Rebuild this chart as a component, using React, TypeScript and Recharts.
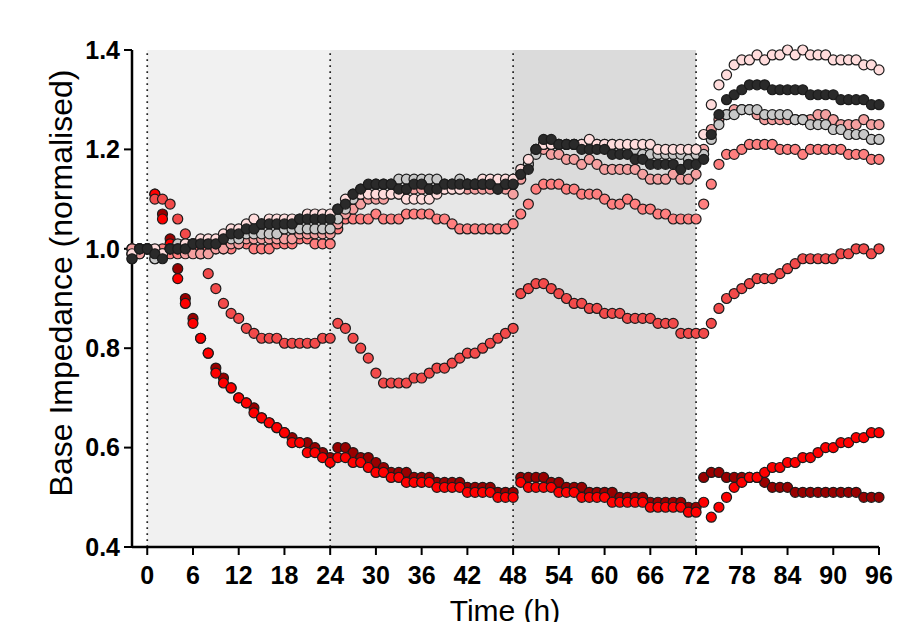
import React from 'react';
import {
  ScatterChart,
  Scatter,
  XAxis,
  YAxis,
  ReferenceArea,
  ReferenceLine,
} from 'recharts';

// sampling times (h), one reading per hour from -2 to 96
const HOURS = Array.from({ length: 99 }, (_, i) => i - 2);

const X_TICKS = [0, 6, 12, 18, 24, 30, 36, 42, 48, 54, 60, 66, 72, 78, 84, 90, 96];
const Y_TICKS = [0.4, 0.6, 0.8, 1.0, 1.2, 1.4];
const PHASE_BOUNDS = [0, 24, 48, 72];

// rows: -2..0 | 1..24 | 25..48 | 49..72 | 73..96
const charcoal = [
  0.98, 1.0, 1.0,
  0.99, 0.98, 1.0, 1.0, 1.0, 1.01, 1.01, 1.01, 1.01, 1.02, 1.03, 1.03, 1.04, 1.04, 1.05, 1.05, 1.05, 1.05, 1.05, 1.06, 1.06, 1.06, 1.06, 1.06,
  1.08, 1.09, 1.11, 1.12, 1.13, 1.13, 1.13, 1.13, 1.12, 1.12, 1.13, 1.13, 1.12, 1.12, 1.13, 1.13, 1.13, 1.13, 1.13, 1.13, 1.13, 1.12, 1.13, 1.13,
  1.15, 1.16, 1.2, 1.22, 1.22, 1.21, 1.21, 1.21, 1.2, 1.2, 1.2, 1.2, 1.19, 1.19, 1.19, 1.18, 1.18, 1.17, 1.17, 1.17, 1.17, 1.16, 1.17, 1.17,
  1.18, 1.23, 1.27, 1.3, 1.31, 1.32, 1.33, 1.33, 1.33, 1.32, 1.32, 1.32, 1.32, 1.32, 1.31, 1.31, 1.31, 1.31, 1.3, 1.3, 1.3, 1.3, 1.29, 1.29,
];

const grey = [
  0.98, 1.0, 1.0,
  0.98, 0.99, 1.0, 1.01, 1.01, 1.01, 1.01, 1.01, 1.01, 1.02, 1.02, 1.02, 1.03, 1.03, 1.03, 1.03, 1.03, 1.04, 1.04, 1.04, 1.04, 1.04, 1.04, 1.04,
  1.06, 1.08, 1.1, 1.12, 1.12, 1.13, 1.13, 1.13, 1.14, 1.14, 1.14, 1.14, 1.14, 1.14, 1.13, 1.13, 1.14, 1.13, 1.13, 1.13, 1.13, 1.13, 1.13, 1.13,
  1.15, 1.17, 1.19, 1.21, 1.21, 1.21, 1.21, 1.21, 1.21, 1.21, 1.21, 1.21, 1.21, 1.2, 1.2, 1.2, 1.19, 1.19, 1.19, 1.19, 1.19, 1.19, 1.18, 1.19,
  1.19, 1.22, 1.25, 1.27, 1.27, 1.28, 1.28, 1.28, 1.27, 1.27, 1.27, 1.27, 1.26, 1.26, 1.25, 1.25, 1.25, 1.24, 1.24, 1.23, 1.23, 1.23, 1.22, 1.22,
];

const blush = [
  0.99, 1.0, 1.0,
  1.0, 0.99, 1.0, 1.0, 1.01, 1.01, 1.02, 1.02, 1.02, 1.03, 1.04, 1.04, 1.05, 1.06, 1.05, 1.06, 1.06, 1.06, 1.06, 1.06, 1.07, 1.07, 1.07, 1.07,
  1.08, 1.1, 1.11, 1.11, 1.11, 1.11, 1.11, 1.11, 1.11, 1.1, 1.1, 1.1, 1.1, 1.11, 1.12, 1.12, 1.12, 1.13, 1.13, 1.14, 1.14, 1.14, 1.14, 1.14,
  1.16, 1.18, 1.2, 1.21, 1.21, 1.21, 1.21, 1.21, 1.21, 1.22, 1.21, 1.21, 1.21, 1.21, 1.21, 1.21, 1.21, 1.21, 1.2, 1.2, 1.2, 1.2, 1.2, 1.2,
  1.23, 1.29, 1.33, 1.35, 1.37, 1.38, 1.38, 1.39, 1.38, 1.39, 1.39, 1.4, 1.39, 1.4, 1.39, 1.39, 1.39, 1.38, 1.38, 1.38, 1.38, 1.37, 1.37, 1.36,
];

const salmon = [
  1.0, 0.99, 1.0,
  0.98, 0.99, 1.0, 1.0, 0.99, 0.99, 0.99, 0.99, 1.0, 1.0, 1.01, 1.01, 1.02, 1.02, 1.02, 1.02, 1.02, 1.02, 1.02, 1.03, 1.03, 1.03, 1.03, 1.03,
  1.05, 1.07, 1.08, 1.09, 1.1, 1.1, 1.1, 1.11, 1.11, 1.12, 1.12, 1.12, 1.12, 1.12, 1.12, 1.12, 1.12, 1.12, 1.12, 1.12, 1.12, 1.12, 1.12, 1.11,
  1.14, 1.17, 1.2, 1.2, 1.19, 1.19, 1.18, 1.18, 1.17, 1.18, 1.17, 1.16, 1.16, 1.16, 1.16, 1.16, 1.15, 1.14, 1.14, 1.14, 1.15, 1.14, 1.14, 1.15,
  1.2, 1.24, 1.26, 1.27, 1.28, 1.28, 1.28, 1.27, 1.26, 1.26, 1.26, 1.26, 1.26, 1.26, 1.26, 1.27, 1.27, 1.26, 1.25, 1.25, 1.25, 1.26, 1.25, 1.25,
];

const coral = [
  0.99, 0.99, 1.0,
  0.99, 1.0, 0.99, 0.99, 1.0, 1.0, 0.99, 1.0, 1.0, 1.0, 1.0, 1.01, 1.01, 1.0, 1.0, 1.0, 1.01, 1.01, 1.01, 1.02, 1.02, 1.01, 1.01, 1.01,
  1.04, 1.06, 1.06, 1.06, 1.06, 1.07, 1.06, 1.06, 1.06, 1.07, 1.07, 1.07, 1.07, 1.06, 1.06, 1.05, 1.04, 1.04, 1.04, 1.04, 1.04, 1.04, 1.04, 1.05,
  1.07, 1.09, 1.12, 1.13, 1.13, 1.13, 1.12, 1.12, 1.11, 1.11, 1.11, 1.1, 1.09, 1.09, 1.1, 1.09, 1.08, 1.08, 1.07, 1.07, 1.06, 1.06, 1.06, 1.06,
  1.09, 1.13, 1.17, 1.19, 1.19, 1.2, 1.21, 1.21, 1.21, 1.21, 1.2, 1.2, 1.2, 1.19, 1.2, 1.2, 1.2, 1.2, 1.2, 1.19, 1.19, 1.19, 1.18, 1.18,
];

const scarlet = [
  0.99, 1.0, 1.0,
  1.1, 1.1, 1.09, 1.06, 1.03, 1.01, 0.99, 0.95, 0.92, 0.89, 0.87, 0.86, 0.84, 0.83, 0.82, 0.82, 0.82, 0.81, 0.81, 0.81, 0.81, 0.81, 0.82, 0.82,
  0.85, 0.84, 0.82, 0.8, 0.78, 0.75, 0.73, 0.73, 0.73, 0.73, 0.74, 0.74, 0.75, 0.76, 0.76, 0.77, 0.78, 0.79, 0.79, 0.8, 0.81, 0.82, 0.83, 0.84,
  0.91, 0.92, 0.93, 0.93, 0.92, 0.91, 0.9, 0.89, 0.89, 0.88, 0.88, 0.87, 0.87, 0.87, 0.86, 0.86, 0.86, 0.86, 0.85, 0.85, 0.85, 0.83, 0.83, 0.83,
  0.83, 0.85, 0.88, 0.9, 0.91, 0.92, 0.93, 0.94, 0.94, 0.94, 0.95, 0.96, 0.97, 0.98, 0.98, 0.98, 0.98, 0.98, 0.99, 0.99, 1.0, 1.0, 0.99, 1.0,
];

const darkRed = [
  1.0, 1.0, 1.0,
  1.11, 1.07, 1.02, 0.96, 0.9, 0.86, 0.82, 0.79, 0.76, 0.74, 0.72, 0.7, 0.69, 0.68, 0.66, 0.65, 0.64, 0.63, 0.62, 0.61, 0.61, 0.6, 0.59, 0.58,
  0.6, 0.6, 0.59, 0.58, 0.58, 0.57, 0.56, 0.55, 0.55, 0.55, 0.54, 0.54, 0.54, 0.53, 0.53, 0.53, 0.53, 0.52, 0.52, 0.52, 0.52, 0.51, 0.51, 0.51,
  0.54, 0.54, 0.54, 0.54, 0.53, 0.53, 0.52, 0.52, 0.52, 0.51, 0.51, 0.51, 0.51, 0.5, 0.5, 0.5, 0.5, 0.49, 0.49, 0.49, 0.49, 0.49, 0.48, 0.48,
  0.54, 0.55, 0.55, 0.54, 0.54, 0.54, 0.54, 0.54, 0.53, 0.52, 0.52, 0.52, 0.51, 0.51, 0.51, 0.51, 0.51, 0.51, 0.51, 0.51, 0.51, 0.5, 0.5, 0.5,
];

const red = [
  1.0, 1.0, 1.0,
  1.11, 1.06, 1.01, 0.94, 0.89, 0.85, 0.82, 0.79, 0.75, 0.73, 0.72, 0.7, 0.69, 0.67, 0.66, 0.65, 0.64, 0.63, 0.61, 0.61, 0.59, 0.59, 0.58, 0.57,
  0.58, 0.58, 0.57, 0.57, 0.56, 0.55, 0.55, 0.54, 0.54, 0.53, 0.53, 0.53, 0.53, 0.52, 0.52, 0.52, 0.52, 0.51, 0.51, 0.51, 0.51, 0.5, 0.5, 0.5,
  0.53, 0.52, 0.52, 0.52, 0.52, 0.51, 0.51, 0.51, 0.5, 0.5, 0.5, 0.5, 0.49, 0.49, 0.49, 0.49, 0.49, 0.48, 0.48, 0.48, 0.48, 0.48, 0.47, 0.47,
  0.49, 0.46, 0.48, 0.5, 0.52, 0.53, 0.54, 0.54, 0.55, 0.56, 0.56, 0.57, 0.57, 0.58, 0.58, 0.59, 0.6, 0.6, 0.61, 0.61, 0.62, 0.62, 0.63, 0.63,
];

// drawn back to front
const SERIES = [
  { name: 'darkRed', values: darkRed, color: '#990000' },
  { name: 'red', values: red, color: '#ff0000' },
  { name: 'scarlet', values: scarlet, color: '#f24a4a' },
  { name: 'coral', values: coral, color: '#ff7f7f' },
  { name: 'salmon', values: salmon, color: '#f5a0a0' },
  { name: 'grey', values: grey, color: '#c8c8c8' },
  { name: 'blush', values: blush, color: '#ffdcdc' },
  { name: 'charcoal', values: charcoal, color: '#2a2a2a' },
];

const PHASES = [
  { from: 0, to: 24, fill: '#f1f1f1' },
  { from: 24, to: 48, fill: '#e7e7e7' },
  { from: 48, to: 72, fill: '#dbdbdb' },
];

const FONT = "'Liberation Sans', Arial, sans-serif";

const dot = (color: string) => (props: any) => (
  <circle
    cx={props.cx}
    cy={props.cy}
    r={5}
    fill={color}
    stroke="#1c1c1c"
    strokeWidth={1.2}
  />
);

const App: React.FC = () => {
  return (
    <div style={{ position: 'absolute', left: 0, top: 0, background: '#fff' }}>
      <ScatterChart width={918} height={622} margin={{ top: 50, right: 39, bottom: 0, left: 0 }}>
        {PHASES.map(p => (
          <ReferenceArea
            key={p.from}
            x1={p.from}
            x2={p.to}
            y1={0.4}
            y2={1.4}
            fill={p.fill}
            fillOpacity={1}
            stroke="none"
          />
        ))}
        {PHASE_BOUNDS.map(x => (
          <ReferenceLine
            key={x}
            x={x}
            stroke="#222"
            strokeWidth={1.7}
            strokeDasharray="1.7 4.3"
          />
        ))}
        <XAxis
          type="number"
          dataKey="h"
          domain={[-2, 96]}
          ticks={X_TICKS}
          interval={0}
          height={75}
          axisLine={{ stroke: '#000', strokeWidth: 2.5 }}
          tickLine={{ stroke: '#000', strokeWidth: 2 }}
          tickSize={8}
          tickMargin={11}
          tick={{ fill: '#000', fontSize: 25, fontWeight: 700, fontFamily: FONT }}
          label={{
            content: () => (
              <text x={505} y={621} textAnchor="middle" fontSize={30} fontFamily={FONT} fill="#000">
                Time (h)
              </text>
            ),
          }}
        />
        <YAxis
          type="number"
          dataKey="v"
          domain={[0.4, 1.4]}
          ticks={Y_TICKS}
          interval={0}
          width={132}
          axisLine={{ stroke: '#000', strokeWidth: 2.5 }}
          tickLine={{ stroke: '#000', strokeWidth: 2 }}
          tickSize={8}
          tickMargin={4}
          tickFormatter={(v: number) => v.toFixed(1)}
          tick={{ fill: '#000', fontSize: 25, fontWeight: 700, fontFamily: FONT }}
          label={{
            content: () => (
              <text
                x={72}
                y={283}
                transform="rotate(-90 72 283)"
                textAnchor="middle"
                fontSize={32}
                fontFamily={FONT}
                fill="#000"
              >
                Base Impedance (normalised)
              </text>
            ),
          }}
        />
        {SERIES.map(s => (
          <Scatter
            key={s.name}
            name={s.name}
            data={HOURS.map((h, i) => ({ h, v: s.values[i] }))}
            shape={dot(s.color)}
            isAnimationActive={false}
          />
        ))}
      </ScatterChart>
    </div>
  );
};

export default App;
